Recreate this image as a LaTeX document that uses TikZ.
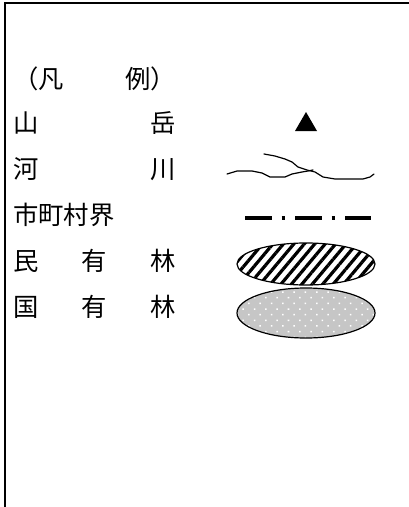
\documentclass[tikz,border=0pt]{standalone}
\usepackage{fontspec}
\setmainfont{Noto Sans CJK JP}
\usepackage{tikz}
\usetikzlibrary{positioning,patterns.meta}

\newlength{\lblwd}\setlength{\lblwd}{122pt}

\begin{document}
\begin{tikzpicture}[x=0.75pt,y=-0.75pt,
    lbl/.style={anchor=west,inner sep=0pt,font=\fontsize{19}{22}\selectfont},
    river/.style={line width=0.9pt,line join=round,line cap=round},
    forest/.style={line width=0.9pt}]
    \useasboundingbox (0,0) rectangle (409,507);

    % Frame
    \draw[line width=1.6pt] (5,507) -- (5,3) -- (409,3);

    % Labels
    \node[lbl] (hanrei) at (13,79) {\makebox[\lblwd][l]{（凡\hfill 例）}};
    \node[lbl] (sangaku) at (13,123) {\makebox[\lblwd][l]{山\hfill 岳}};
    \node[lbl] (kasen) at (13,169) {\makebox[\lblwd][l]{河\hfill 川}};
    \node[lbl] (kyokai) at (13,215) {市町村界};
    \node[lbl] (minyu) at (13,261) {\makebox[\lblwd][l]{民\hfill 有\hfill 林}};
    \node[lbl] (kokuyu) at (13,307) {\makebox[\lblwd][l]{国\hfill 有\hfill 林}};

    % Mountain
    \fill (295,131) -- (317,131) -- (306,112) -- cycle;

    % River
    \draw[river] (227,174) -- (237,171) -- (252,171) -- (262,173) -- (270,177)
        -- (285,177) -- (292,174) -- (302,172) -- (308,171) -- (313,170);
    \draw[river] (264,154) -- (275,156) -- (285,159) -- (292,162) -- (298,167)
        -- (307,170) -- (315,172) -- (323,177) -- (335,179) -- (363,179)
        -- (370,177) -- (374,174);

    % Boundary
    \draw[line width=3pt,dash pattern=on 20pt off 7.5pt on 2.5pt off 7.5pt]
        (245,218) -- (371,218);

    % Private forest
    \draw[forest,pattern={Lines[angle=50,distance=6pt,line width=2.4pt]}]
        (306,264) ellipse [x radius=51.75pt,y radius=15.75pt];

    % National forest
    \draw[forest,preaction={fill=gray!45},
        pattern={Dots[angle=45,distance=6pt,radius=0.8pt]},pattern color=white]
        (306,313) ellipse [x radius=51.75pt,y radius=18.75pt];
\end{tikzpicture}
\end{document}
